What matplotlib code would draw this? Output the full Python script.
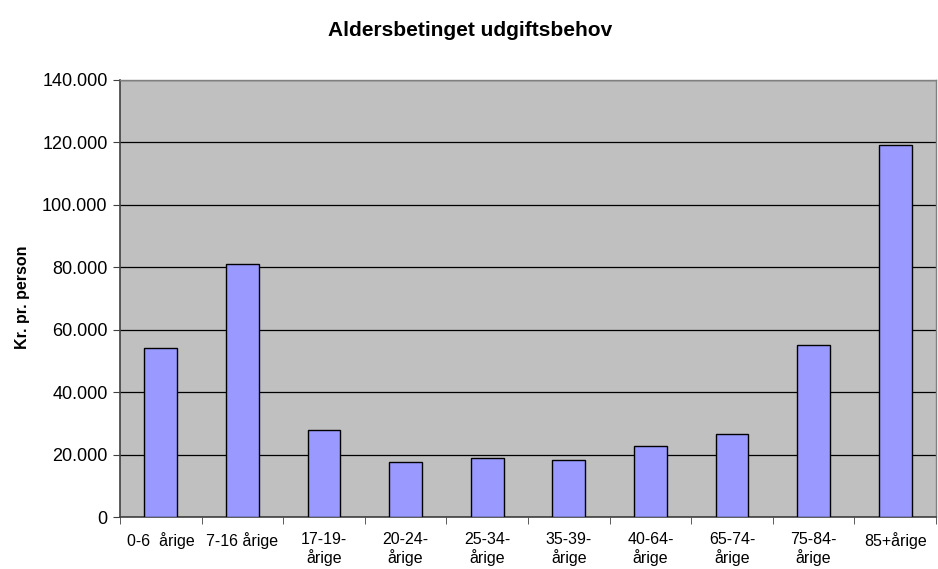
import numpy as np
import matplotlib.pyplot as plt
from matplotlib.ticker import FuncFormatter, FixedLocator

plt.rcParams['font.family'] = ['Liberation Sans', 'DejaVu Sans']

categories = ['0-6  årige', '7-16 årige', '17-19-\nårige', '20-24-\nårige', '25-34-\nårige',
              '35-39-\nårige', '40-64-\nårige', '65-74-\nårige', '75-84-\nårige', '85+årige']
values = [54100, 81100, 27800, 17600, 18900, 18200, 22800, 26500, 55100, 119100]

fig = plt.figure(figsize=(9.38, 5.69), dpi=100)
ax = fig.add_axes([120 / 938, 52 / 569, 816 / 938, 437 / 569])

x = np.arange(len(categories))
ax.set_facecolor('#C0C0C0')
ax.bar(x, values, width=0.4, color='#9999FF', edgecolor='black', linewidth=1, zorder=3)

ax.set_ylim(0, 140000)
ax.set_xlim(-0.5, len(categories) - 0.5)
ax.set_yticks(np.arange(0, 140001, 20000))
ax.yaxis.set_major_formatter(FuncFormatter(lambda v, p: f'{int(v):,}'.replace(',', '.')))
ax.grid(axis='y', color='black', linewidth=0.9, zorder=1)

ax.set_xticks(x)
ax.set_xticklabels(categories, fontsize=11.5, linespacing=1.1)
ax.tick_params(axis='x', which='major', length=0, pad=11)
ax.xaxis.set_minor_locator(FixedLocator(np.arange(-0.5, len(categories), 1)))
ax.tick_params(axis='x', which='minor', length=5, direction='out', color='#404040')
ax.tick_params(axis='y', labelsize=13, length=5, color='#404040', pad=4)

for side in ['left', 'bottom']:
    ax.spines[side].set_color('#404040')
    ax.spines[side].set_linewidth(1.2)
for side in ['top', 'right']:
    ax.spines[side].set_color('#808080')
    ax.spines[side].set_linewidth(1)

fig.text(22 / 938, 1 - 297 / 569, 'Kr. pr. person', fontsize=11.5, fontweight='bold',
         rotation=90, ha='center', va='center')
fig.text(0.501, 1 - 31 / 569, 'Aldersbetinget udgiftsbehov', fontsize=15,
         fontweight='bold', ha='center', va='center')

fig.savefig('out.png', dpi=100)
